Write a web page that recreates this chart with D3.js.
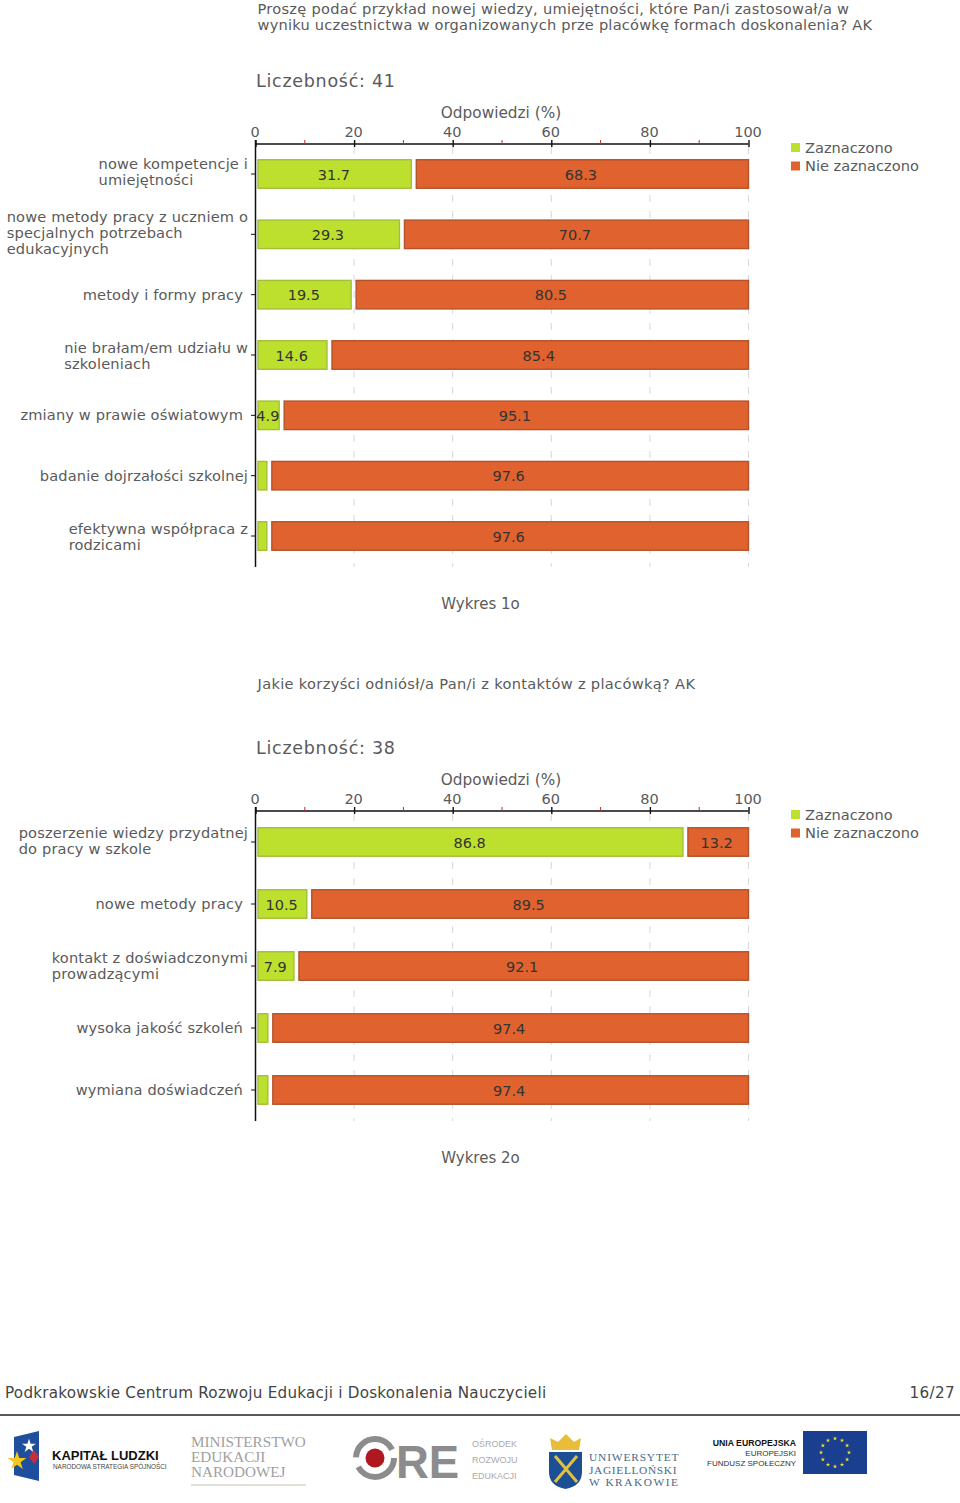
<!DOCTYPE html>
<html><head><meta charset="utf-8">
<script src="https://cdn.jsdelivr.net/npm/d3@7"></script>
<style>html,body{margin:0;padding:0;background:#fff}svg{display:block}text{font-family:"DejaVu Sans",sans-serif}</style>
</head><body><svg id="c" width="960" height="1503"></svg>
<script>
const ticks=[0,20,40,60,80,100];
const minorTicks=[10,30,50,70,90];
const legendNames=["Zaznaczono","Nie zaznaczono"];
const title1=["Proszę podać przykład nowej wiedzy, umiejętności, które Pan/i zastosował/a w","wyniku uczestnictwa w organizowanych prze placówkę formach doskonalenia? AK"];
const title2=["Jakie korzyści odniósł/a Pan/i z kontaktów z placówką? AK"];
const cats1=[["nowe kompetencje i","umiejętności"],["nowe metody pracy z uczniem o","specjalnych potrzebach","edukacyjnych"],["metody i formy pracy"],["nie brałam/em udziału w","szkoleniach"],["zmiany w prawie oświatowym"],["badanie dojrzałości szkolnej"],["efektywna współpraca z","rodzicami"]];
const yes1=[31.7,29.3,19.5,14.6,4.9,2.4,2.4];
const no1=[68.3,70.7,80.5,85.4,95.1,97.6,97.6];
const cats2=[["poszerzenie wiedzy przydatnej","do pracy w szkole"],["nowe metody pracy"],["kontakt z doświadczonymi","prowadzącymi"],["wysoka jakość szkoleń"],["wymiana doświadczeń"]];
const yes2=[86.8,10.5,7.9,2.6,2.6];
const no2=[13.2,89.5,92.1,97.4,97.4];
const GREEN="#bde02e",GREEN_D="#a3bf3a",ORANGE="#e0622e",ORANGE_D="#b4532a",TXT="#5a5a5a";
const svg=d3.select("#c");
const x=d3.scaleLinear().domain([0,100]).range([255.5,748.5]);
const LS="0.15px";

function chart(o){
  const g=svg.append("g");
  o.title.forEach((t,i)=>g.append("text").attr("x",257.5).attr("y",o.titleY+i*16).attr("font-size",14.6).attr("fill",TXT).style("letter-spacing",o.titleLs[i]).text(t));
  g.append("text").attr("x",256).attr("y",o.countY).attr("font-size",17.5).attr("fill",TXT).style("letter-spacing","0.72px").text(o.count);
  g.append("text").attr("x",501).attr("y",o.axisY-26).attr("text-anchor","middle").attr("font-size",15.3).attr("fill",TXT).text("Odpowiedzi (%)");
  const y=d3.scalePoint().domain(d3.range(o.cats.length)).range([o.c0,o.c1]);
  g.append("g").selectAll("line").data(ticks.slice(1)).join("line")
    .attr("x1",d=>x(d)).attr("x2",d=>x(d)).attr("y1",o.axisY+3).attr("y2",o.bottom)
    .attr("stroke","#d8d8d8").attr("stroke-dasharray","7 9");
  const ax=g.append("g").attr("transform",`translate(-1,${o.axisY})`)
    .call(d3.axisTop(x).tickValues(ticks).tickSize(4).tickPadding(3).tickFormat(d3.format("d")));
  ax.select(".domain").remove();
  ax.selectAll("line").attr("stroke","#111").attr("stroke-width",1.4).attr("y2",-4).attr("y1",3).attr("transform","translate(1,0)");
  ax.selectAll("text").attr("font-size",14.5).attr("fill",TXT).attr("dy","0.32em").attr("y",-12).attr("font-family",'"DejaVu Sans"');
  g.append("line").attr("x1",x(0)).attr("x2",x(100)).attr("y1",o.axisY).attr("y2",o.axisY).attr("stroke","#111").attr("stroke-width",1.5);
  g.append("g").selectAll("line").data(minorTicks).join("line")
    .attr("x1",d=>x(d)).attr("x2",d=>x(d)).attr("y1",o.axisY-4).attr("y2",o.axisY)
    .attr("stroke","#b03030");
  g.append("line").attr("x1",255.5).attr("x2",255.5).attr("y1",o.axisY-4).attr("y2",o.bottom).attr("stroke","#111").attr("stroke-width",1.5);
  const H=28.5,gap0=2.5,gap=4.5;
  o.cats.forEach((c,i)=>{
    const cy=y(i);
    g.append("line").attr("x1",251).attr("x2",255.5).attr("y1",cy).attr("y2",cy).attr("stroke","#111");
    const meas=g.append("text").attr("font-size",14.6).style("letter-spacing",LS).attr("visibility","hidden");
    let w=0;
    c.forEach(l=>{meas.text(l);w=Math.max(w,meas.node().getComputedTextLength());});
    meas.remove();
    const right=(c.length===1&&i!==o.wide)?243:248;
    c.forEach((l,k)=>g.append("text").attr("x",right-w).attr("y",cy+5-(c.length-1)*8+k*16-(c.length>1?1:0)+o.nudge[i])
      .attr("font-size",14.6).attr("fill",TXT).style("letter-spacing",LS).text(l));
    const a=o.yes[i],b=o.no[i];
    g.append("rect").attr("x",x(0)+gap0).attr("y",cy-H/2).attr("width",x(a)-x(0)-gap0-0.5).attr("height",H)
      .attr("fill",GREEN).attr("stroke",GREEN_D).attr("stroke-width",1.4);
    g.append("rect").attr("x",x(a)+gap).attr("y",cy-H/2).attr("width",x(100)-x(a)-gap).attr("height",H)
      .attr("fill",ORANGE).attr("stroke",ORANGE_D).attr("stroke-width",1.4);
    if(a>=4)g.append("text").attr("x",(x(0)+gap0+x(a))/2-1).attr("y",cy+5.5).attr("text-anchor","middle").attr("font-size",14.5).attr("fill","#333").text(a);
    g.append("text").attr("x",(x(a)+gap+x(100))/2-1.5).attr("y",cy+5.5).attr("text-anchor","middle").attr("font-size",14.5).attr("fill","#333").text(b);
  });
  legendNames.forEach((n,i)=>{
    const ly=o.legendY+i*18.5;
    g.append("rect").attr("x",791).attr("y",ly-5).attr("width",9).attr("height",9).attr("fill",i?ORANGE:GREEN);
    g.append("text").attr("x",805).attr("y",ly+4.5).attr("font-size",14.6).attr("fill",TXT).text(n);
  });
  g.append("text").attr("x",480.5).attr("y",o.capY).attr("text-anchor","middle").attr("font-size",15).attr("fill",TXT).text(o.caption);
}
chart({title:title1,titleLs:["0.27px","0.22px"],titleY:14,count:"Liczebność: 41",countY:87,axisY:144,bottom:567,c0:174,c1:536,cats:cats1,yes:yes1,no:no1,legendY:148,capY:608.5,caption:"Wykres 1o",wide:5,nudge:[-1,0,0,2,0,0,2]});
chart({title:title2,titleLs:["0.33px"],titleY:689,count:"Liczebność: 38",countY:754,axisY:811,bottom:1121,c0:842,c1:1090,cats:cats2,yes:yes2,no:no2,legendY:815,capY:1162.5,caption:"Wykres 2o",wide:-1,nudge:[0,0,1,0,0]});

svg.append("text").attr("x",5).attr("y",1398).attr("font-size",15.2).attr("fill","#444").style("letter-spacing","0.24px").text("Podkrakowskie Centrum Rozwoju Edukacji i Doskonalenia Nauczycieli");
svg.append("text").attr("x",955).attr("y",1398).attr("text-anchor","end").attr("font-size",15.2).attr("fill","#444").style("letter-spacing","0.35px").text("16/27");
svg.append("line").attr("x1",0).attr("x2",960).attr("y1",1415).attr("y2",1415).attr("stroke","#222").attr("stroke-width",1.5);

const L=svg.append("g");
function T(x,y,s,size,fill,weight,font,anchor,ls){L.append("text").attr("x",x).attr("y",y).attr("font-size",size).attr("fill",fill).attr("font-weight",weight||"normal").attr("text-anchor",anchor||"start").style("font-family",font||'"Liberation Sans"').style("letter-spacing",ls||null).text(s);}
const star=(cx,cy,area,f)=>L.append("path").attr("transform",`translate(${cx},${cy})`).attr("d",d3.symbol(d3.symbolStar,area)()).attr("fill",f);
L.append("path").attr("d",d3.line()([[14,1437],[39,1431],[39,1481],[14,1475]])+"Z").attr("fill","#1f4f9c");
star(29,1446,60,"#fff");star(17,1461,110,"#f2c81e");
L.append("path").attr("d","M34,1450L39,1457L34,1464L29,1457Z").attr("fill","#c5303a");
T(52,1460,"KAPITAŁ LUDZKI",13,"#111","bold");
T(53,1469,"NARODOWA STRATEGIA SPÓJNOŚCI",6.4,"#444");
const serif='"Liberation Serif"';
T(191,1447,"MINISTERSTWO",15.2,"#a0a0a0","normal",serif);
T(191,1462,"EDUKACJI",15.2,"#a0a0a0","normal",serif);
T(191,1477,"NARODOWEJ",15.2,"#a0a0a0","normal",serif);
L.append("line").attr("x1",191).attr("x2",306).attr("y1",1485).attr("y2",1485).attr("stroke","#d8d4c8").attr("stroke-width",1.5);
L.append("circle").attr("cx",375).attr("cy",1458).attr("r",19).attr("fill","none").attr("stroke","#8c8c8c").attr("stroke-width",6).attr("stroke-dasharray","50 10");
L.append("circle").attr("cx",375).attr("cy",1458).attr("r",9.5).attr("fill","#b01820");
T(396,1478,"RE",45.5,"#8c8c8c","bold");
T(472,1447,"OŚRODEK",9,"#aaa");T(472,1463,"ROZWOJU",9,"#aaa");T(472,1479,"EDUKACJI",9,"#aaa");
L.append("path").attr("d","M549,1452H582V1472Q582,1486 565.5,1489Q549,1486 549,1472Z").attr("fill","#1d4f94");
L.append("path").attr("d","M552,1450L550,1438L558,1442L566,1434L574,1442L581,1438L579,1450Z").attr("fill","#e8bd3a");
L.append("path").attr("d","M555,1456L577,1482M577,1456L555,1482").attr("stroke","#e0c040").attr("stroke-width",3);
T(589,1461,"UNIWERSYTET",11.4,"#4a6a88","normal",serif,"start","0.85px");
T(589,1474,"JAGIELLOŃSKI",11.4,"#4a6a88","normal",serif,"start","0.65px");
T(589,1486,"W KRAKOWIE",11.4,"#4a6a88","normal",serif,"start","1.5px");
T(796,1446,"UNIA EUROPEJSKA",8.7,"#111","bold",null,"end");
T(796,1456,"EUROPEJSKI",8,"#333","normal",null,"end");
T(796,1466,"FUNDUSZ SPOŁECZNY",8,"#333","normal",null,"end");
L.append("rect").attr("x",803).attr("y",1431).attr("width",64).attr("height",43).attr("fill","#1a3f8f");
d3.range(12).forEach(i=>{const t=i/12*2*Math.PI;star(835+14*Math.sin(t),1452.5-14*Math.cos(t),6,"#f2d92e");});
</script></body></html>
